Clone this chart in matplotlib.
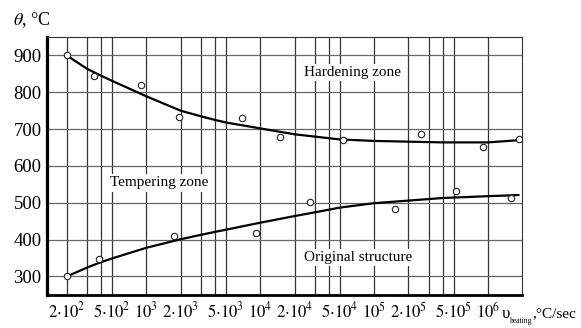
import numpy as np
import matplotlib
matplotlib.use('Agg')
import matplotlib.pyplot as plt
from matplotlib.ticker import FixedLocator, NullFormatter

plt.rcParams['font.family'] = ['Liberation Serif', 'DejaVu Serif']
plt.rcParams['mathtext.fontset'] = 'stix'

# measured points (open circles)
heat_x = [2e2, 3.45e2, 9.0e2, 1.93e3, 6.97e3, 1.48e4, 5.3e4, 2.6e5, 9.0e5, 1.86e6]
heat_y = [900, 843, 821, 732, 730, 680, 670, 688, 651, 672]

orig_x = [2e2, 3.8e2, 1.75e3, 9.1e3, 2.74e4, 1.51e5, 5.2e5, 1.6e6]
orig_y = [300, 347, 410, 418, 501, 482, 532, 512]

# fitted curves
upper_x = [2e2, 3e2, 4e2, 5e2, 1e3, 2e3, 3e3, 4e3, 5e3, 1e4, 2e4, 5e4, 1e5, 2e5, 4e5, 1e6, 1.85e6]
upper_y = [900, 864, 845, 831, 789, 750, 735, 725, 718, 702, 686, 672, 668, 666, 664, 664, 670]

lower_x = [2e2, 3e2, 4e2, 5e2, 1e3, 2e3, 3e3, 4e3, 5e3, 1e4, 2e4, 3e4, 5e4, 1e5, 2e5, 4e5, 1e6, 1.85e6]
lower_y = [300, 324, 339, 349, 378, 401, 413, 421, 427, 446, 464, 474, 487, 499, 506, 513, 518, 521]

xticks = [2e2, 5e2, 1e3, 2e3, 5e3, 1e4, 2e4, 5e4, 1e5, 2e5, 5e5, 1e6]
xlabels = [r'$2{\cdot}10^2$', r'$5{\cdot}10^2$', r'$10^3$', r'$2{\cdot}10^3$', r'$5{\cdot}10^3$',
           r'$10^4$', r'$2{\cdot}10^4$', r'$5{\cdot}10^4$', r'$10^5$', r'$2{\cdot}10^5$',
           r'$5{\cdot}10^5$', r'$10^6$']
xminor = [3e2, 4e2, 3e3, 4e3, 3e4, 4e4, 3e5, 4e5]
yticks = [300, 400, 500, 600, 700, 800, 900]

fig = plt.figure(figsize=(5.81, 3.28), dpi=100)
ax = fig.add_axes([0.081, 0.101, 0.818, 0.786])

ax.set_xscale('log')
ax.set_xlim(134, 2e6)
ax.set_ylim(250, 950)

ax.xaxis.set_major_locator(FixedLocator(xticks))
ax.xaxis.set_minor_locator(FixedLocator(xminor))
ax.xaxis.set_minor_formatter(NullFormatter())
ax.set_xticklabels(xlabels)
ax.set_yticks(yticks)

ax.grid(True, which='both', axis='x', color='#333333', lw=0.9)
ax.grid(True, which='major', axis='y', color='#666666', lw=0.9)
ax.set_axisbelow(True)
ax.tick_params(which='both', length=0)
ax.tick_params(axis='x', pad=5, labelsize=12)
ax.tick_params(axis='y', pad=4, labelsize=13.5)

for s in ['top', 'right']:
    ax.spines[s].set_linewidth(0.8)
    ax.spines[s].set_color('#333333')
ax.spines['left'].set_linewidth(2.3)
ax.spines['bottom'].set_linewidth(2.0)

ax.plot(upper_x, upper_y, color='black', lw=1.6, zorder=3)
ax.plot(lower_x, lower_y, color='black', lw=1.6, zorder=3)
ax.plot(heat_x, heat_y, 'o', ms=4.6, mfc='white', mec='#222222', mew=0.8, zorder=4)
ax.plot(orig_x, orig_y, 'o', ms=4.6, mfc='white', mec='#222222', mew=0.8, zorder=4)

box = dict(facecolor='white', edgecolor='none', pad=1.5)
ax.text(6.4e4, 854, 'Hardening zone', fontsize=11, ha='center', va='center', bbox=box, zorder=5)
ax.text(1.29e3, 554, 'Tempering zone', fontsize=11, ha='center', va='center', bbox=box, zorder=5)
ax.text(7.3e4, 351, 'Original structure', fontsize=11, ha='center', va='center', bbox=box, zorder=5)

fig.text(0.022, 0.94, r'$\theta$, °C', fontsize=13, ha='left', va='center')

# x axis name: upsilon with a tiny "heating" subscript
fig.text(0.864, 0.032, 'υ', fontsize=12, ha='left', va='baseline')
fig.text(0.878, 0.016, 'heating', fontsize=5.5, ha='left', va='baseline')
fig.text(0.917, 0.032, ',°C/sec', fontsize=11, ha='left', va='baseline')

fig.savefig('out.png', dpi=100)
